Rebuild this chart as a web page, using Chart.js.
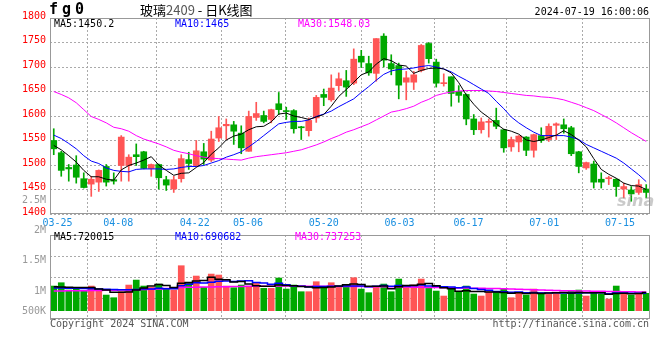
<!DOCTYPE html>
<html>
<head>
<meta charset="utf-8">
<script src="https://cdn.jsdelivr.net/npm/chart.js@4.4.1/dist/chart.umd.min.js"></script>
<style>
  body { margin: 0; background: #fff; width: 660px; height: 360px; overflow: hidden; position: relative;
         font-family: 'DejaVu Sans Mono', monospace; font-size: 10px; }
  .t { position: absolute; white-space: nowrap; line-height: 12px; }
  .r { text-align: right; }
  #pbox { position: absolute; left: 0; top: 0; width: 660px; height: 232px; }
  #vbox { position: absolute; left: 0; top: 232px; width: 660px; height: 96px; }
</style>
</head>
<body>
<div id="pbox"><canvas id="price" width="660" height="232"></canvas></div>
<div id="vbox"><canvas id="vol" width="660" height="96"></canvas></div>

<div class="t" style="left:49px;top:3px;font-weight:bold;font-size:15px;letter-spacing:4px;">fg0</div>
<div class="t" style="left:140px;top:4px;font-family:'Noto Sans CJK SC';font-size:13px;color:#000;">玻璃<span style="color:#555">2409</span> - 日K线图</div>
<div class="t" style="right:11px;top:6px;color:#000;">2024-07-19 16:00:06</div>

<div class="t" style="left:54px;top:18px;color:#000;">MA5:1450.2</div>
<div class="t" style="left:175px;top:18px;color:#0000ff;">MA10:1465</div>
<div class="t" style="left:298px;top:18px;color:#ff00ff;">MA30:1548.03</div>

<div class="t r" style="right:614px;top:194px;color:#999;">2.5M</div>
<div class="t r" style="right:614px;top:224px;color:#999;">2M</div>
<div class="t r" style="right:614px;top:254px;color:#999;">1.5M</div>
<div class="t r" style="right:614px;top:285px;color:#999;">1M</div>
<div class="t r" style="right:614px;top:305px;color:#999;">500K</div>

<div class="t" style="left:54px;top:231px;color:#000;">MA5:720015</div>
<div class="t" style="left:175px;top:231px;color:#0000ff;">MA10:690682</div>
<div class="t" style="left:295px;top:231px;color:#ff00ff;">MA30:737253</div>

<div class="t" style="left:50px;top:318px;color:#555;">Copyright 2024 SINA.COM</div>
<div class="t" style="right:11px;top:318px;color:#555;">http://finance.sina.com.cn</div>
<div class="t" style="left:617px;top:191px;font:italic bold 16px 'DejaVu Sans';color:rgba(150,150,150,0.5);">sina</div>

<script>
// x axis date ticks (positions in candle index units) and their labels
const tickLabels = ['03-25', '04-08', '04-22', '05-06', '05-20', '06-03', '06-17', '07-01', '07-15'];
const tickPos = [0.5, 8.6, 18.8, 25.9, 36.0, 46.1, 55.3, 65.4, 75.5];

// daily candles
const open = [1550,1525,1495,1500,1472,1461,1465,1497,1470,1499,
  1499,1521,1527,1493,1501,1470,1451,1472,1511,1499,
  1527,1510,1555,1580,1582,1565,1528,1597,1601,1593,
  1625,1611,1611,1578,1570,1596,1644,1633,1662,1672,
  1667,1722,1707,1687,1763,1707,1703,1669,1669,1693,
  1748,1710,1666,1680,1650,1644,1594,1572,1587,1591,
  1572,1537,1547,1557,1530,1560,1552,1581,1582,1576,
  1527,1494,1502,1471,1472,1471,1451,1449,1444,1451];
const high = [1574,1528,1501,1519,1484,1477,1490,1501,1484,1560,
  1521,1543,1528,1502,1502,1477,1477,1521,1526,1550,
  1544,1569,1599,1594,1589,1580,1610,1628,1610,1614,
  1648,1618,1613,1579,1596,1642,1655,1684,1688,1693,
  1737,1734,1722,1758,1768,1725,1708,1691,1691,1746,
  1750,1716,1686,1680,1662,1645,1603,1596,1594,1616,
  1573,1557,1560,1558,1563,1576,1584,1586,1594,1579,
  1528,1506,1508,1484,1477,1472,1463,1456,1470,1460];
const low = [1521,1477,1467,1463,1453,1436,1446,1457,1461,1467,
  1467,1499,1492,1477,1451,1448,1444,1465,1491,1497,
  1501,1507,1548,1552,1542,1523,1528,1591,1586,1586,
  1603,1593,1565,1552,1559,1587,1621,1630,1652,1640,
  1664,1699,1683,1671,1700,1684,1635,1633,1654,1690,
  1708,1659,1661,1620,1628,1582,1562,1565,1557,1574,
  1526,1528,1527,1519,1516,1546,1548,1552,1565,1519,
  1484,1491,1453,1453,1460,1436,1433,1426,1440,1433];
const close = [1533,1489,1492,1475,1454,1471,1489,1465,1467,1557,
  1516,1517,1493,1501,1474,1459,1470,1513,1503,1529,
  1512,1553,1576,1583,1569,1535,1599,1605,1589,1613,
  1613,1609,1574,1576,1591,1638,1638,1657,1676,1659,
  1716,1710,1688,1758,1714,1696,1663,1678,1684,1744,
  1717,1667,1668,1646,1642,1594,1572,1588,1589,1579,
  1535,1552,1559,1530,1562,1550,1579,1584,1574,1523,
  1497,1505,1465,1465,1474,1456,1456,1441,1460,1444];

// price moving averages as drawn
const ma5 = [1540,1531,1519,1506,1489,1476,1476,1471,1469,1490,
  1499,1504,1510,1517,1500,1489,1479,1483,1484,1495,
  1505,1522,1535,1551,1559,1563,1572,1578,1579,1588,
  1604,1606,1600,1597,1593,1598,1603,1620,1640,1654,
  1669,1684,1690,1706,1717,1713,1704,1702,1687,1693,
  1697,1698,1696,1688,1668,1643,1624,1608,1597,1584,
  1573,1569,1563,1551,1548,1551,1556,1561,1570,1562,
  1551,1537,1513,1491,1481,1473,1463,1458,1457,1450];
const ma10 = [1561,1554,1544,1533,1519,1508,1503,1494,1489,1487,
  1486,1491,1492,1492,1492,1491,1492,1495,1497,1497,
  1499,1504,1509,1516,1521,1527,1537,1548,1560,1572,
  1584,1587,1589,1589,1592,1599,1604,1610,1619,1627,
  1635,1648,1660,1673,1685,1692,1695,1696,1698,1701,
  1703,1700,1696,1690,1681,1673,1664,1655,1646,1630,
  1615,1598,1586,1576,1567,1560,1560,1560,1560,1557,
  1552,1542,1535,1528,1521,1514,1504,1492,1480,1466];
const ma30 = [1650,1644,1637,1627,1613,1599,1593,1586,1577,1574,
  1569,1560,1553,1548,1543,1537,1530,1526,1523,1519,
  1516,1514,1513,1512,1511,1510,1514,1517,1519,1521,
  1523,1525,1528,1531,1536,1541,1547,1554,1560,1567,
  1572,1578,1584,1592,1600,1608,1611,1615,1620,1628,
  1634,1642,1646,1649,1651,1652,1652,1652,1651,1650,
  1648,1646,1644,1642,1641,1639,1638,1636,1633,1628,
  1623,1617,1611,1603,1595,1586,1576,1566,1557,1548];

// volume in thousands of lots, and its moving averages
const volumeK = [974,1105,816,921,764,974,790,618,513,750,
  1013,1210,974,921,1052,843,816,1777,1079,1369,
  921,1447,1408,974,908,1013,948,1079,882,882,
  1290,855,1013,750,750,1145,948,1105,921,1013,
  1303,855,711,948,1052,750,1250,974,1013,1250,
  908,776,579,843,750,974,658,579,750,750,
  843,513,685,618,855,711,645,711,658,776,
  816,579,711,658,460,974,658,618,685,685];
const vma5 = [950,940,930,920,916,916,853,813,732,729,
  737,821,892,974,1034,1000,921,1082,1113,1177,
  1192,1319,1245,1224,1132,1150,1050,984,966,961,
  1016,998,984,958,932,903,921,940,974,1026,
  1058,1039,961,966,974,863,942,995,1008,1047,
  1079,984,905,871,771,784,761,761,742,742,
  716,687,708,682,703,676,703,708,716,700,
  721,708,708,708,645,676,692,674,679,720];
const vma10 = [900,895,890,885,880,870,860,850,840,823,
  826,837,853,853,882,868,871,987,1044,1105,
  1096,1120,1163,1169,1154,1171,1184,1115,1095,1046,
  1083,1024,984,962,946,959,959,962,966,979,
  980,980,950,970,1000,961,991,978,987,1011,
  971,963,950,940,909,932,873,833,807,757,
  750,724,735,712,723,696,695,708,699,702,
  699,705,708,712,673,699,700,691,694,691];
const vma30 = [780,782,785,788,790,795,800,805,810,815,
  820,830,840,850,860,880,900,915,925,930,
  935,940,945,950,955,960,962,965,968,970,
  975,975,975,972,970,968,965,962,960,958,
  955,952,950,948,945,942,940,935,930,925,
  920,915,910,905,900,895,890,885,880,875,
  865,855,845,835,825,815,805,795,790,785,
  780,775,770,765,760,755,750,745,740,737];

const UP = '#ff5555';
const DOWN = '#00a800';
const colors = close.map((c, i) => (c >= open[i] ? UP : DOWN));
const pts = arr => arr.map((v, i) => ({ x: i, y: v }));

Chart.defaults.font.family = "'DejaVu Sans Mono', monospace";
Chart.defaults.font.size = 10;

const framePlugin = {
  id: 'frame',
  afterDraw(chart) {
    const { ctx, chartArea: a } = chart;
    ctx.save();
    ctx.strokeStyle = '#999';
    ctx.lineWidth = 1;
    ctx.strokeRect(a.left + 0.5, a.top + 0.5, a.right - a.left - 1, a.bottom - a.top - 1);
    ctx.restore();
  }
};

function xScale(showLabels, height) {
  return {
    type: 'linear',
    min: -0.5,
    max: 79.5,
    offset: false,
    afterBuildTicks: s => { s.ticks = tickPos.map(v => ({ value: v })); },
    afterFit: s => { s.height = height; },
    ticks: {
      display: showLabels,
      autoSkip: false,
      maxRotation: 0,
      padding: 3,
      color: '#1a8fe0',
      callback: (v, i) => tickLabels[i]
    },
    grid: { color: '#aaa', drawTicks: false },
    border: { display: false, dash: [2, 2] }
  };
}

const lineDs = (data, color, width, extra) => Object.assign({
  type: 'line', data: pts(data), borderColor: color, borderWidth: width,
  pointRadius: 0, tension: 0, order: 0
}, extra || {});

new Chart(document.getElementById('price'), {
  type: 'bar',
  data: {
    datasets: [
      lineDs(ma5, '#000000', 1),
      lineDs(ma10, '#0000ff', 1),
      lineDs(ma30, '#ff00ff', 1),
      {
        data: open.map((o, i) => ({ x: i, y: [o, close[i]] })),
        backgroundColor: colors, barThickness: 6, minBarLength: 1,
        grouped: false, order: 1
      },
      {
        data: low.map((l, i) => ({ x: i, y: [l, high[i]] })),
        backgroundColor: colors, barThickness: 1,
        grouped: false, order: 2
      }
    ]
  },
  options: {
    responsive: false,
    animation: false,
    devicePixelRatio: 1,
    layout: { padding: { top: 18, right: 10, left: 0, bottom: 0 } },
    plugins: { legend: { display: false }, tooltip: { enabled: false } },
    scales: {
      x: xScale(true, 18),
      y: {
        min: 1400,
        max: 1800,
        afterFit: s => { s.width = 50; },
        ticks: { stepSize: 50, color: '#ff0000', padding: 4, labelOffset: -2, callback: v => String(v) },
        grid: { color: '#aaa', drawTicks: false },
        border: { display: false, dash: [2, 2] }
      }
    }
  },
  plugins: [framePlugin]
});

new Chart(document.getElementById('vol'), {
  type: 'bar',
  data: {
    datasets: [
      lineDs(vma5, '#000000', 1.5, { stepped: 'middle' }),
      lineDs(vma10, '#0000ff', 1.5, { stepped: 'middle' }),
      lineDs(vma30, '#ff00ff', 1.5, { stepped: 'middle' }),
      {
        data: pts(volumeK),
        backgroundColor: colors, barThickness: 6,
        grouped: false, order: 1
      }
    ]
  },
  options: {
    responsive: false,
    animation: false,
    devicePixelRatio: 1,
    layout: { padding: { top: 3, right: 10, left: 0, bottom: 0 } },
    plugins: { legend: { display: false }, tooltip: { enabled: false } },
    scales: {
      x: xScale(false, 9),
      y: {
        min: -328,
        max: 2990,
        afterFit: s => { s.width = 50; },
        afterBuildTicks: s => {
          const step = (s.max - s.min) / 4;
          s.ticks = [0, 1, 2, 3, 4].map(k => ({ value: s.min + k * step }));
        },
        ticks: { display: false },
        grid: { color: '#aaa', drawTicks: false },
        border: { display: false, dash: [2, 2] }
      }
    }
  },
  plugins: [framePlugin]
});
</script>
</body>
</html>
